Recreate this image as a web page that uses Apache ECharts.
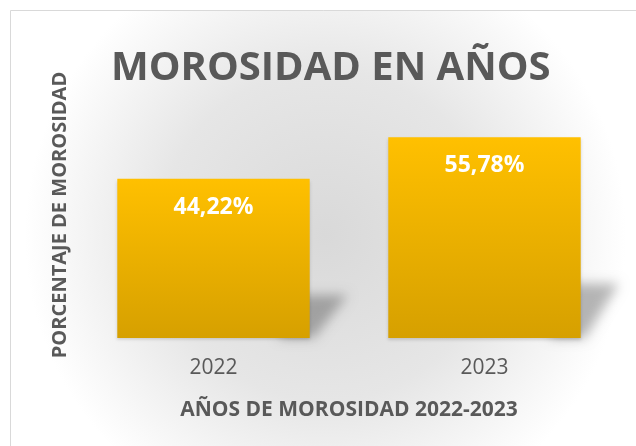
<!DOCTYPE html>
<html>
<head>
<meta charset="utf-8">
<script src="https://cdn.jsdelivr.net/npm/echarts@6/dist/echarts.min.js"></script>
<style>
  html, body { margin: 0; padding: 0; background: #fff; }
  #chart { width: 636px; height: 446px; }
</style>
</head>
<body>
<div id="chart"></div>
<script>
var years = ["2022", "2023"];
var morosidad = [44.22, 55.78];

var chart = echarts.init(document.getElementById("chart"));

// floor shadow behind each bar (drawn as a blurred shadow only)
function renderShadow(params, api) {
  var top = api.coord([api.value(0), api.value(1)]);
  var base = api.coord([api.value(0), 0]);
  var w = api.size([1, 0])[0] * 0.71;
  var xr = top[0] + w / 2;
  var h = base[1] - top[1];
  var ty = base[1] - h * 0.27;
  var off = 2000;
  return {
    type: "polygon",
    shape: {
      points: [
        [xr - 30 - off, base[1]],
        [xr - 30 - off, ty],
        [xr + 38 - off, ty],
        [xr + 4 - off, base[1]]
      ]
    },
    style: {
      fill: "#000",
      shadowColor: "rgba(0,0,0,0.28)",
      shadowBlur: 12,
      shadowOffsetX: off
    }
  };
}

chart.setOption({
  backgroundColor: "#fff",
  textStyle: { fontFamily: "Open Sans" },
  graphic: [
    {
      type: "rect",
      z: -10,
      silent: true,
      shape: { x: 10.5, y: 10.5, width: 700, height: 500 },
      style: {
        stroke: "#d9d9d9",
        lineWidth: 1,
        fill: {
          type: "radial",
          x: 0.45, y: 0.45, r: 0.6,
          colorStops: [
            { offset: 0, color: "#d9d9d9" },
            { offset: 0.55, color: "#e6e6e6" },
            { offset: 1, color: "#ffffff" }
          ]
        }
      }
    },
    {
      type: "text",
      silent: true,
      x: 60,
      y: 215,
      rotation: Math.PI / 2,
      style: {
        text: "PORCENTAJE DE MOROSIDAD",
        fill: "#595959",
        font: "bold 20px 'Open Sans'",
        align: "center",
        verticalAlign: "middle"
      }
    }
  ],
  title: {
    text: "MOROSIDAD EN AÑOS",
    left: 106,
    top: 44,
    textStyle: { color: "#595959", fontSize: 40, fontWeight: "bold", fontFamily: "Open Sans" }
  },
  grid: { left: 78, right: 16, top: 122, bottom: 108 },
  xAxis: {
    type: "category",
    data: years,
    name: "AÑOS DE MOROSIDAD 2022-2023",
    nameLocation: "middle",
    nameGap: 62,
    nameTextStyle: { color: "#595959", fontSize: 21, fontWeight: "bold" },
    axisLine: { show: false },
    axisTick: { show: false },
    axisLabel: { color: "#595959", fontSize: 21, margin: 20 }
  },
  yAxis: {
    type: "value",
    min: 0,
    max: 60,
    axisLine: { show: false },
    axisTick: { show: false },
    axisLabel: { show: false },
    splitLine: { show: false }
  },
  series: [
    {
      type: "custom",
      z: 1,
      silent: true,
      renderItem: renderShadow,
      data: morosidad.map(function (v, i) { return [i, v]; })
    },
    {
      type: "bar",
      z: 2,
      data: morosidad,
      barWidth: "71%",
      itemStyle: {
        color: {
          type: "linear", x: 0, y: 0, x2: 0, y2: 1,
          colorStops: [
            { offset: 0, color: "#ffc000" },
            { offset: 1, color: "#d6a000" }
          ]
        },
        shadowColor: "rgba(0,0,0,0.15)",
        shadowBlur: 3,
        shadowOffsetY: 2
      },
      label: {
        show: true,
        position: "insideTop",
        distance: 17,
        color: "#fff",
        fontSize: 23,
        fontWeight: "bold",
        formatter: function (p) {
          return p.value.toFixed(2).replace(".", ",") + "%";
        }
      }
    }
  ]
});
</script>
</body>
</html>
